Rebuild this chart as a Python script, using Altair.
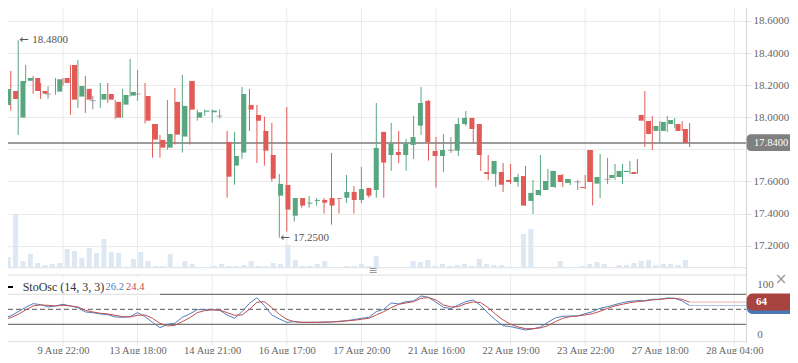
import altair as alt
import pandas as pd

# ---------------- data ----------------
opens = [18.077, 18.164, 17.998, 18.228, 18.245, 18.164, 18.145, 18.160, 18.245, 18.326,
         18.129, 18.177, 18.104, 18.110, 18.145, 18.096, 18.079, 18.135, 18.145, 18.133,
         17.958, 17.859, 17.811, 18.096, 17.880, 18.226, 17.998, 18.035, 18.031, 18.008,
         17.846, 17.699, 17.780, 18.077, 18.015, 17.915, 17.765, 17.512, 17.578, 17.387,
         17.497, 17.462, 17.479, 17.485, 17.497, 17.497, 17.499, 17.535, 17.485, 17.560,
         17.547, 17.909, 17.765, 17.784, 17.765, 17.828, 17.948, 18.102, 17.790, 17.759,
         17.794, 17.792, 17.958, 17.996, 17.958, 17.659, 17.647, 17.659, 17.610, 17.597,
         17.634, 17.479, 17.516, 17.547, 17.566, 17.641, 17.591, 17.597, 17.566, 17.796,
         17.587, 17.614, 17.622, 17.628, 17.659, 17.659, 18.015, 17.977, 17.915, 17.915,
         17.958, 17.958, 17.927]
highs = [18.191, 18.289, 18.480, 18.326, 18.258, 18.214, 18.193, 18.245, 18.245, 18.326,
         18.357, 18.258, 18.133, 18.214, 18.214, 18.108, 18.177, 18.363, 18.295, 18.214,
         17.958, 17.890, 18.108, 18.183, 18.264, 18.226, 18.048, 18.048, 18.048, 18.048,
         17.915, 17.909, 18.189, 18.177, 18.077, 18.004, 17.965, 17.647, 18.064, 17.497,
         17.497, 17.510, 17.497, 17.497, 17.778, 17.497, 17.641, 17.572, 17.691, 17.560,
         18.089, 17.909, 17.965, 17.915, 17.865, 18.008, 18.189, 18.108, 17.877, 17.896,
         17.877, 17.996, 18.039, 17.996, 17.958, 17.765, 17.728, 17.715, 17.709, 17.647,
         17.697, 17.610, 17.765, 17.678, 17.666, 17.647, 17.616, 17.610, 17.641, 17.796,
         17.772, 17.747, 17.709, 17.709, 17.728, 17.740, 18.164, 18.008, 17.977, 18.008,
         17.996, 17.977, 17.965]
lows = [17.946, 18.042, 17.890, 18.210, 18.147, 18.114, 18.116, 18.141, 18.197, 18.015,
        18.058, 18.027, 18.050, 18.058, 18.091, 17.990, 17.998, 18.129, 18.102, 17.961,
        17.749, 17.749, 17.799, 17.830, 17.780, 17.830, 17.979, 18.010, 17.967, 17.992,
        17.499, 17.580, 17.742, 17.915, 17.715, 17.699, 17.599, 17.250, 17.288, 17.350,
        17.437, 17.437, 17.450, 17.400, 17.331, 17.400, 17.466, 17.400, 17.466, 17.499,
        17.499, 17.499, 17.666, 17.715, 17.666, 17.740, 17.890, 17.730, 17.562, 17.659,
        17.778, 17.759, 17.946, 17.840, 17.666, 17.610, 17.568, 17.535, 17.585, 17.568,
        17.450, 17.398, 17.510, 17.547, 17.560, 17.566, 17.578, 17.547, 17.553, 17.450,
        17.497, 17.585, 17.610, 17.585, 17.647, 17.647, 17.815, 17.796, 17.840, 17.909,
        17.934, 17.915, 17.815]
closes = [18.177, 18.114, 18.226, 18.245, 18.164, 18.147, 18.145, 18.237, 18.214, 18.110,
          18.195, 18.110, 18.104, 18.145, 18.110, 17.998, 18.139, 18.158, 18.145, 17.979,
          17.861, 17.811, 17.896, 17.892, 18.071, 18.048, 18.031, 18.042, 18.042, 18.008,
          17.630, 17.759, 18.145, 18.048, 17.979, 17.792, 17.618, 17.585, 17.425, 17.497,
          17.450, 17.468, 17.485, 17.468, 17.450, 17.493, 17.535, 17.485, 17.553, 17.512,
          17.809, 17.718, 17.836, 17.765, 17.836, 17.877, 18.089, 17.846, 17.759, 17.796,
          17.794, 17.958, 17.996, 17.927, 17.765, 17.647, 17.728, 17.580, 17.597, 17.628,
          17.450, 17.529, 17.547, 17.603, 17.666, 17.597, 17.616, 17.597, 17.560, 17.597,
          17.628, 17.614, 17.641, 17.666, 17.666, 17.647, 17.979, 17.896, 17.946, 17.971,
          17.983, 17.915, 17.840]
volumes = [10.7, 54, 6.7, 13.7, 4.7, 2.7, 3.7, 4.7, 18.7, 16.7,
           9.7, 19.7, 14.7, 28.7, 15.7, 14.7, 1, 8.7, 15.7, 6.7,
           1.7, 1.7, 13.7, 1, 6.7, 3.7, 0.7, 0.7, 1.7, 3.7,
           1.7, 1.7, 2.7, 6.7, 1.7, 1.7, 4.7, 3.7, 22.7, 7.7,
           1.7, 1.7, 3.7, 6.7, 0.7, 0.7, 1.7, 1.7, 3.7, 1.7,
           11.7, 0.7, 0.7, 0.7, 0.7, 6.7, 5.7, 7.7, 1.7, 3.7,
           1.7, 2.7, 3.7, 1.7, 8.7, 3.7, 2.7, 2.7, 0.7, 0.7,
           33.7, 38.7, 0.7, 0.7, 0.7, 6.7, 0.7, 0.7, 1.7, 3.7,
           5.7, 3.7, 0.7, 2.7, 2.7, 4.7, 6.7, 7.7, 2.7, 3.7,
           3.7, 2.7, 7.7]
stoch_k = [33.3, 36.7, 45.3, 54.0, 61.3, 59.3, 54.7, 56.7, 60.0, 56.7,
           53.3, 44.7, 43.3, 40.7, 39.3, 34.7, 34.0, 35.3, 43.3, 35.3,
           24.0, 13.3, 20.0, 22.0, 34.0, 40.7, 49.3, 49.3, 48.7, 48.0,
           38.7, 32.0, 45.3, 62.0, 73.3, 57.3, 38.7, 30.7, 24.0, 25.3,
           24.0, 24.0, 24.0, 24.7, 24.7, 26.0, 27.3, 29.3, 32.0, 34.0,
           45.3, 50.0, 62.7, 60.7, 65.3, 66.7, 76.7, 74.0, 64.0, 54.0,
           51.3, 58.7, 65.3, 68.7, 57.3, 42.0, 28.7, 17.3, 15.3, 12.0,
           8.7, 10.7, 14.7, 24.0, 32.7, 36.0, 36.7, 36.7, 41.3, 45.3,
           52.0, 55.3, 59.3, 63.3, 66.0, 67.3, 67.3, 70.0, 70.0, 72.7,
           72.0, 66.7, 57.5]
stoch_d = [30.0, 33.3, 40.0, 48.7, 56.7, 58.7, 58.0, 56.7, 58.0, 56.7,
           54.7, 48.0, 44.7, 42.0, 40.7, 38.0, 35.3, 34.7, 38.0, 38.7,
           32.0, 22.0, 16.7, 18.0, 25.3, 33.3, 43.3, 47.3, 49.3, 48.7,
           43.3, 38.0, 38.7, 50.0, 64.0, 65.3, 53.3, 40.0, 30.0, 25.3,
           24.0, 24.0, 24.0, 24.0, 24.7, 25.3, 26.7, 28.0, 30.0, 32.0,
           38.7, 45.3, 53.3, 60.0, 62.7, 65.3, 72.0, 73.3, 68.7, 58.7,
           54.7, 55.3, 61.3, 64.7, 63.3, 53.3, 40.0, 28.7, 20.0, 14.7,
           11.3, 11.3, 12.7, 17.3, 25.3, 32.0, 35.3, 36.7, 38.7, 41.3,
           46.0, 52.0, 56.7, 60.0, 63.3, 65.3, 66.7, 68.7, 70.0, 71.3,
           72.0, 70.0, 64.4]

tick_index = [8, 18, 28, 38, 48, 58, 68, 78, 88, 98]
tick_labels = ["9 Aug 22:00", "13 Aug 18:00", "14 Aug 21:00", "16 Aug 17:00",
               "17 Aug 20:00", "21 Aug 16:00", "22 Aug 19:00", "23 Aug 22:00",
               "27 Aug 18:00", "28 Aug 04:00"]
price_ticks = [17.2, 17.4, 17.6, 17.8, 18.0, 18.2, 18.4, 18.6]
osc_ticks = [0, 100]
osc_solid_levels = [80, 20]
osc_dash_levels = [50]
last_price = 17.84
high_mark = {"i": 2, "p": 18.48}
low_mark = {"i": 37, "p": 17.25}
legend_name = "StoOsc (14, 3, 3)"
legend_k = "26.2"
legend_d = "24.4"

# ---------------- styles ----------------
FONT = "Liberation Serif"
GREEN = "#58a680"
RED = "#e15a56"
DOJI = "#8c8c8c"
VOL = "#dde8f3"
GRID = "#ebebeb"
FRAME = "#dedede"
KBLUE = "#4f7dbf"
DRED = "#c0504d"
LEVEL = "#555555"

n = len(opens)
df = pd.DataFrame({"i": list(range(n)), "o": opens, "h": highs, "l": lows,
                   "c": closes, "v": volumes, "k": stoch_k, "d": stoch_d})
df["dir"] = ["up" if c > o else ("down" if c < o else "flat") for o, c in zip(opens, closes)]

X_DOMAIN = [-0.442, 99.558]
price_scale = alt.Scale(domain=[16.6, 18.7308], nice=False, zero=False)
vol_scale = alt.Scale(domain=[-74.3, 267.7], nice=False, zero=False)
osc_scale = alt.Scale(domain=[-15.4, 668.6], nice=False, zero=False)
dir_color = alt.Scale(domain=["up", "down", "flat"], range=[GREEN, RED, DOJI])


def xs():
    return alt.Scale(domain=X_DOMAIN, nice=False, zero=False)


X = alt.X("i:Q", scale=xs(), axis=None)
base = alt.Chart(df)

labels_js = "[" + ",".join("'" + s + "'" for s in tick_labels) + "]"
pos_js = "[" + ",".join(str(t) for t in tick_index) + "]"
x_axis = alt.Axis(values=tick_index, labelExpr=f"{labels_js}[indexof({pos_js}, datum.value)]",
                  grid=False, ticks=False, domain=False, labelPadding=3, labelFlush=False,
                  labelFont=FONT, labelFontSize=10.5, labelColor="#666666", title=None,
                  labelOverlap=False)

ticks_df = pd.DataFrame({"t": tick_index})
vgrid_main = alt.Chart(ticks_df).mark_rule(color=GRID, strokeWidth=1).encode(
    x=alt.X("t:Q", scale=xs(), axis=x_axis), y=alt.value(0), y2=alt.value(267.7))
vgrid_osc = alt.Chart(ticks_df).mark_rule(color=GRID, strokeWidth=1).encode(
    x=alt.X("t:Q", scale=xs(), axis=None), y=alt.value(275), y2=alt.value(346))

frame_df = pd.DataFrame({"yy": [267.7, 275, 341.7]})
frames = alt.Chart(frame_df).mark_rule(color=FRAME, strokeWidth=1).encode(
    x=alt.value(0), x2=alt.value(746), y=alt.Y("yy:Q", scale=None))

volume = base.mark_bar(size=5, color=VOL).encode(
    x=X, y=alt.Y("v:Q", scale=vol_scale, axis=None), y2=alt.datum(0))

last_df = pd.DataFrame({"p": [last_price]})
last_line = alt.Chart(last_df).mark_rule(color="#7a7a7a", strokeWidth=1.5).encode(
    x=alt.value(0), x2=alt.value(746), y=alt.Y("p:Q", scale=price_scale, axis=None))

wicks = base.mark_rule(strokeWidth=1).encode(
    x=X, y=alt.Y("l:Q", scale=price_scale, axis=None), y2="h:Q",
    color=alt.Color("dir:N", scale=dir_color, legend=None))

# the tick label hidden under the last-price box in the reference is left blank
price_axis = alt.Axis(orient="right", values=price_ticks, grid=True,
                      labelExpr=f"abs(datum.value - {last_price}) < 0.06 ? '' : format(datum.value, '.4f')",
                      gridColor=GRID, tickColor="#e0e0e0", tickSize=5, labelPadding=2,
                      labelColor="#666666", labelFont=FONT, labelFontSize=11,
                      domain=True, domainColor="#d4d4d4", title=None)
bodies = base.transform_filter("datum.dir != 'flat'").mark_bar(size=5).encode(
    x=X, y=alt.Y("o:Q", scale=price_scale, axis=price_axis), y2="c:Q",
    color=alt.Color("dir:N", scale=dir_color, legend=None))
dojis = base.transform_filter("datum.dir == 'flat'").mark_tick(
    orient="horizontal", size=6, thickness=1).encode(
    x=X, y=alt.Y("o:Q", scale=price_scale, axis=None),
    color=alt.Color("dir:N", scale=dir_color, legend=None))

ext_df = pd.DataFrame([high_mark, low_mark])
arrows = alt.Chart(ext_df).mark_text(align="left", baseline="middle", dx=1, fontSize=11,
                                      font="DejaVu Sans", color="#555555").encode(
    x=alt.X("i:Q", scale=xs(), axis=None), y=alt.Y("p:Q", scale=price_scale, axis=None),
    text=alt.value("\u2190"))
ext_text = alt.Chart(ext_df).mark_text(align="left", baseline="middle", dx=14, fontSize=11,
                                        font=FONT, color="#555555").encode(
    x=alt.X("i:Q", scale=xs(), axis=None), y=alt.Y("p:Q", scale=price_scale, axis=None),
    text=alt.Text("p:Q", format=".4f"))

last_box = alt.Chart(last_df).transform_calculate(
    top="datum.p + 0.054", bot="datum.p - 0.050").mark_rect(
    color="#808080", cornerRadius=4).encode(
    x=alt.value(746.7), x2=alt.value(805),
    y=alt.Y("top:Q", scale=price_scale, axis=None), y2="bot:Q")
last_text = alt.Chart(last_df).mark_text(align="left", baseline="middle", fontSize=10.5,
                                          font=FONT, color="white").encode(
    x=alt.value(754), y=alt.Y("p:Q", scale=price_scale, axis=None),
    text=alt.Text("p:Q", format=".4f"))

# ---------------- oscillator ----------------
solid_df = pd.DataFrame({"lv": osc_solid_levels})
dash_df = pd.DataFrame({"lv": osc_dash_levels})
lv_solid = alt.Chart(solid_df).mark_rule(color=LEVEL, strokeWidth=1).encode(
    x=alt.value(0), x2=alt.value(746), y=alt.Y("lv:Q", scale=osc_scale, axis=None))
lv_dash = alt.Chart(dash_df).mark_rule(color=LEVEL, strokeWidth=1, strokeDash=[5, 3]).encode(
    x=alt.value(0), x2=alt.value(746), y=alt.Y("lv:Q", scale=osc_scale, axis=None))

osc_axis = alt.Axis(orient="right", values=osc_ticks, grid=False, ticks=False, tickSize=0,
                    domain=False, labelPadding=10.7, labelColor="#666666", labelFont=FONT,
                    labelFontSize=11, title=None)
k_line = base.mark_line(color=KBLUE, strokeWidth=1).encode(
    x=X, y=alt.Y("k:Q", scale=osc_scale, axis=osc_axis))
d_line = base.mark_line(color=DRED, strokeWidth=1).encode(
    x=X, y=alt.Y("d:Q", scale=osc_scale, axis=None))

tail = base.transform_filter(f"datum.i == {n - 1}")
k_ext = tail.mark_rule(color="#a9c0e0", strokeWidth=1).encode(
    x=X, x2=alt.value(746), y=alt.Y("k:Q", scale=osc_scale, axis=None))
d_ext = tail.mark_rule(color="#e6b0b0", strokeWidth=1).encode(
    x=X, x2=alt.value(746), y=alt.Y("d:Q", scale=osc_scale, axis=None))
k_box = tail.transform_calculate(top="datum.k + 17", bot="datum.k - 17").mark_rect(
    color="#4a78b4", cornerRadius=6).encode(
    x=alt.value(746.7), x2=alt.value(805),
    y=alt.Y("top:Q", scale=osc_scale, axis=None), y2="bot:Q")
d_box = tail.transform_calculate(top="datum.d + 17", bot="datum.d - 17").mark_rect(
    color="#a8443f", cornerRadius=6).encode(
    x=alt.value(746.7), x2=alt.value(805),
    y=alt.Y("top:Q", scale=osc_scale, axis=None), y2="bot:Q")
d_text = tail.mark_text(align="left", baseline="middle", fontSize=11, fontWeight="bold",
                        font=FONT, color="white").encode(
    x=alt.value(756), y=alt.Y("d:Q", scale=osc_scale, axis=None),
    text=alt.Text("d:Q", format=".0f"))

one = pd.DataFrame({"a": [0]})
legend_bg = alt.Chart(one).mark_rect(color="white", opacity=0.8).encode(
    x=alt.value(0), x2=alt.value(160), y=alt.value(278), y2=alt.value(296))
legend_dash = alt.Chart(one).mark_rule(color="black", strokeWidth=2).encode(
    x=alt.value(5), x2=alt.value(13), y=alt.value(287))


def legend_text(txt, xpos, col, size):
    return alt.Chart(one).mark_text(align="left", baseline="middle", fontSize=size,
                                    font=FONT, color=col).encode(
        x=alt.value(xpos), y=alt.value(287), text=alt.value(txt))


legend_name_t = legend_text(legend_name, 22.7, "#333333", 12)
legend_k_t = legend_text(legend_k, 105.5, KBLUE, 10.5)
legend_d_t = legend_text(legend_d, 126, DRED, 10.5)

menu_icon = alt.Chart(one).mark_text(align="center", baseline="middle", color="#9a9a9a",
                                     font="DejaVu Sans", fontSize=11).encode(
    x=alt.value(373), y=alt.value(271), text=alt.value("\u2261"))
close_icon = alt.Chart(one).mark_text(align="center", baseline="middle", color="#9a9a9a",
                                      font="DejaVu Sans", fontSize=15).encode(
    x=alt.value(781), y=alt.value(279), text=alt.value("\u00d7"))

chart = alt.layer(
    vgrid_main, vgrid_osc, frames, volume, last_line, wicks, bodies, dojis,
    arrows, ext_text, last_box, last_text,
    lv_solid, lv_dash, k_line, d_line, k_ext, d_ext,
    legend_bg, legend_dash, legend_name_t, legend_k_t, legend_d_t,
    k_box, d_box, d_text, menu_icon, close_icon
).resolve_scale(y="independent", x="independent").properties(
    width=746, height=342,
    autosize=alt.AutoSizeParams(type="none"),
    padding={"left": -8, "top": -8, "right": 44, "bottom": 12},
).configure_view(strokeWidth=0)

chart.save("out.html", embed_options={"renderer": "svg", "actions": False})
